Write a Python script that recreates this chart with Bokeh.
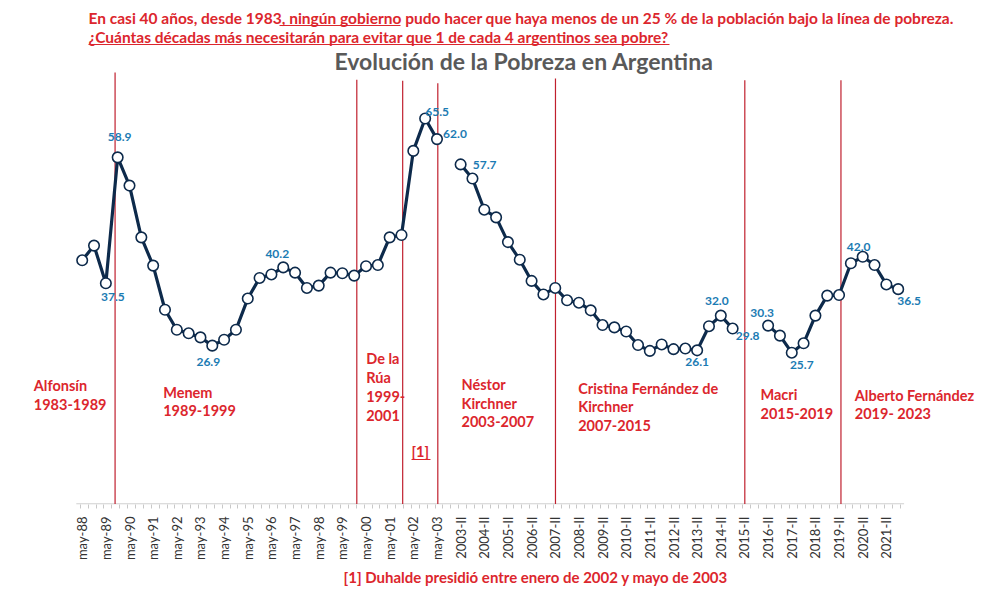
import numpy as np
from bokeh.plotting import figure
from bokeh.models import Range1d, FixedTicker, ColumnDataSource, Title
from bokeh.core.properties import value
from bokeh.embed import file_html
from bokeh.resources import INLINE

# ---------------- DATA ----------------
periodos = ["may-88", "oct-88", "may-89", "oct-89", "may-90", "oct-90", "may-91", "oct-91",
            "may-92", "oct-92", "may-93", "oct-93", "may-94", "oct-94", "may-95", "oct-95",
            "may-96", "oct-96", "may-97", "oct-97", "may-98", "oct-98", "may-99", "oct-99",
            "may-00", "oct-00", "may-01", "oct-01", "may-02", "oct-02", "may-03", "2003-I",
            "2003-II", "2004-I", "2004-II", "2005-I", "2005-II", "2006-I", "2006-II", "2007-I",
            "2007-II", "2008-I", "2008-II", "2009-I", "2009-II", "2010-I", "2010-II", "2011-I",
            "2011-II", "2012-I", "2012-II", "2013-I", "2013-II", "2014-I", "2014-II", "2015-I",
            "2015-II", "2016-I", "2016-II", "2017-I", "2017-II", "2018-I", "2018-II", "2019-I",
            "2019-II", "2020-I", "2020-II", "2021-I", "2021-II", "2022-I"]

pobreza = [41.4, 43.9, 37.5, 58.9, 54.1, 45.3, 40.5, 33.0,
           29.6, 29.0, 28.3, 26.9, 27.9, 29.6, 34.9, 38.4,
           39.0, 40.2, 39.3, 36.7, 37.1, 39.3, 39.2, 38.8,
           40.4, 40.6, 45.3, 45.7, 60.0, 65.5, 62.0, None,
           57.7, 55.3, 50.0, 48.7, 44.5, 41.5, 37.9, 35.6,
           36.7, 34.6, 34.2, 32.9, 30.4, 30.0, 29.3, 27.0,
           26.0, 27.1, 26.3, 26.4, 26.1, 30.2, 32.0, 29.8,
           None, None, 30.3, 28.6, 25.7, 27.3, 32.0, 35.4,
           35.5, 40.9, 42.0, 40.6, 37.3, 36.5]

# periods whose value is written on the chart
periodos_rotulados = ["may-89", "oct-89", "oct-93", "oct-96", "oct-02", "may-03", "2003-II",
                      "2013-II", "2014-II", "2015-I", "2016-II", "2017-II", "2020-II", "2022-I"]

# changes of government (position on the period axis)
cambios_gobierno = [2.78, 23.22, 27.1, 30.07, 40.02, 56.03, 64.16]

gobiernos = [["Alfonsín", "1983-1989"],
             ["Menem", "1989-1999"],
             ["De la", "Rúa", "1999-", "2001"],
             ["[1]"],
             ["Néstor", "Kirchner", "2003-2007"],
             ["Cristina Fernández de", "Kirchner", "2007-2015"],
             ["Macri", "2015-2019"],
             ["Alberto Fernández", "2019- 2023"]]

texto1 = "En casi 40 años, desde 1983, ningún gobierno pudo hacer que haya menos de un 25 % de la población bajo la línea de pobreza."
texto2 = "¿Cuántas décadas más necesitarán para evitar que 1 de cada 4 argentinos sea pobre?"
titulo = "Evolución de la Pobreza en Argentina"
nota = "[1] Duhalde presidió entre enero de 2002 y mayo de 2003"

# ---------------- STYLE / LAYOUT ----------------
NAVY = "#0d2a4b"
RED = "#dc262d"
LINE_RED = "#c0202e"
BLUE = "#1b7bb3"
FONT = value("Lato")

PX_X = 11.826
PX_Y = 5.8837


def X(px):
    return (px - 81.7) / PX_X


def Y(py):
    return (503.4 - py) / PX_Y


n = len(periodos)
idx = np.arange(n, dtype=float)
vals = np.array([np.nan if v is None else v for v in pobreza], dtype=float)

p = figure(width=976, height=590, output_backend="svg", toolbar_location=None,
           x_range=Range1d(X(0), X(976)), y_range=Range1d(Y(504), Y(0)),
           y_axis_location=None, min_border_left=0, min_border_right=0,
           min_border_top=0, min_border_bottom=86)
p.xgrid.visible = False
p.ygrid.visible = False
p.outline_line_color = None
p.background_fill_color = "white"

# axis
major = [i for i in range(n) if i % 2 == 0 and periodos[i] != "2003-I"]
minor = list(np.arange(-0.16, n - 0.5, 2.0 / 3.0))
p.xaxis.ticker = FixedTicker(ticks=major, minor_ticks=minor)
p.xaxis.major_label_overrides = {i: periodos[i] for i in major}
p.xaxis.major_label_orientation = np.pi / 2
p.xaxis.axis_line_color = None
p.xaxis.major_tick_line_color = None
p.xaxis.minor_tick_line_color = "#c8c8c8"
p.xaxis.minor_tick_in = 0
p.xaxis.minor_tick_out = 4
p.xaxis.major_label_standoff = 6
p.xaxis.major_label_text_font = "Lato"
p.xaxis.major_label_text_font_size = "13px"
p.xaxis.major_label_text_color = "#333333"

# axis line drawn only across the periods
p.segment(x0=[-0.5], y0=[0], x1=[n - 0.5], y1=[0], line_color="#d0d0d0", line_width=1.2)

# government change lines
tops = [73.3, 72.1, 71.9, 71.5, 72.3, 72.0, 72.0]
p.segment(x0=cambios_gobierno, y0=0, x1=cambios_gobierno, y1=tops,
          line_color=LINE_RED, line_width=1.2)

# series
src = ColumnDataSource(dict(x=idx, y=vals))
p.line("x", "y", source=src, line_color=NAVY, line_width=3.2)
p.scatter("x", "y", source=src, size=10.5, fill_color="white", line_color=NAVY, line_width=1.6)

# data labels
offs = {"may-89": (7, 14), "oct-89": (2, -20), "oct-93": (-4, 16), "oct-96": (-6, -13),
        "oct-02": (12, -7), "may-03": (18, -5), "2003-II": (24, 1), "2013-II": (0, 12),
        "2014-II": (-4, -15), "2015-I": (15, 7), "2016-II": (-6, -13), "2017-II": (10, 12),
        "2020-II": (-4, -10), "2022-I": (11, 12)}
li = [periodos.index(k) for k in periodos_rotulados]
lab = ColumnDataSource(dict(
    x=[float(i) for i in li], y=[vals[i] for i in li],
    t=["%.1f" % vals[i] for i in li],
    dx=[offs[k][0] for k in periodos_rotulados],
    dy=[offs[k][1] for k in periodos_rotulados]))
p.text("x", "y", text="t", source=lab, x_offset="dx", y_offset="dy",
       text_font=FONT, text_font_style="bold", text_font_size="12px",
       text_color=BLUE, text_align="center", text_baseline="middle")

# government labels
gov_pos = [(33.3, 384.7, 19.3), (162.7, 391.7, 18.3), (365.7, 358.3, 19.0), (411, 451, 0),
           (461, 384, 18.7), (577.7, 387.7, 18.7), (760, 394, 19.3), (854.3, 395, 18.3)]
gx, gy, gt = [], [], []
for lines, (lx, ly, step) in zip(gobiernos, gov_pos):
    for k, t in enumerate(lines):
        gx.append(X(lx))
        gy.append(Y(ly + k * step))
        gt.append(t)
p.text(x=gx, y=gy, text=gt, text_font=FONT, text_font_style="bold", text_font_size="14.5px",
       text_color=RED, text_align="left", text_baseline="middle")
# underline of [1]
p.segment(x0=[X(411)], y0=[Y(459)], x1=[X(430)], y1=[Y(459)], line_color=RED, line_width=1)

# header texts
p.text(x=[X(88), X(88)], y=[Y(17), Y(36)], text=[texto1, texto2], text_font=FONT,
       text_font_style="bold", text_font_size="15.5px", text_color=RED,
       text_align="left", text_baseline="middle")
p.segment(x0=[X(279), X(88)], y0=[Y(25), Y(44)], x1=[X(400), X(669)], y1=[Y(25), Y(44)],
          line_color=RED, line_width=1)
p.text(x=[X(523.5)], y=[Y(60)], text=[titulo], text_font=FONT, text_font_style="bold",
       text_font_size="23px", text_color="#595959", text_align="center", text_baseline="middle")

# footnote
p.add_layout(Title(text=nota, align="left", offset=343, text_font="Lato",
                   text_font_style="bold", text_font_size="15px", text_color=RED,
                   standoff=4), "below")

open("out.html", "w").write(file_html(p, INLINE))
